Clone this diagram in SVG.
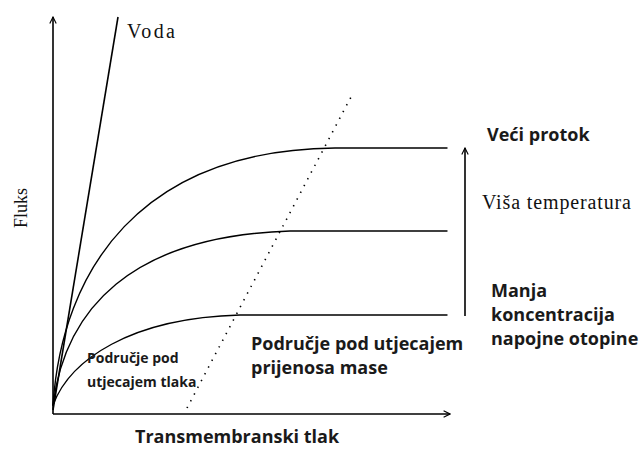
<svg xmlns="http://www.w3.org/2000/svg" width="641" height="450" viewBox="0 0 641 450">
<style>
.ax{fill:none;stroke:#000;stroke-width:1.6}
.cv{fill:none;stroke:#000;stroke-width:1.4;stroke-linejoin:round;stroke-linecap:round}
.dot{fill:none;stroke:#000;stroke-width:1.6;stroke-dasharray:1.4 6.2;stroke-linecap:butt}
.serif{font-family:"Liberation Serif","Times New Roman",serif;fill:#111}
.sans{font-family:"Open Sans","Liberation Sans",Arial,sans-serif;font-weight:bold;fill:#1a1a1a}
</style>
<defs>
<marker id="ah" viewBox="0 0 10 10" refX="9" refY="5" markerWidth="8" markerHeight="8" orient="auto" markerUnits="userSpaceOnUse">
<path d="M1,1 L9,5 L1,9" fill="none" stroke="#000" stroke-width="1.4"/>
</marker>
</defs>
<rect width="641" height="450" fill="#fff"/>
<g id="connectors">
<path class="ax" d="M53,414 L53,17" marker-end="url(#ah)"/>
<path class="ax" d="M53,414 L450,414" marker-end="url(#ah)"/>
<path class="ax" d="M53,410 L118,17"/>
<path class="cv" d="M53,405 C62,270 140,150 335,148 L447,148"/>
<path class="cv" d="M53,405 C65,310 130,236 290,231 L447,231"/>
<path class="cv" d="M53,405 C70,360 130,318 240,315 L447,315"/>
<path class="dot" d="M187,408 L351,97"/>
<path class="ax" d="M465,316 L465,148" marker-end="url(#ah)"/>
</g>
<g id="labels">
<text class="serif" x="127" y="38" font-size="20" textLength="48">Voda</text>
<text class="serif" x="482" y="209" font-size="20" textLength="149">Viša temperatura</text>
<text class="serif" font-size="18" text-anchor="middle" transform="translate(27,208) rotate(-90)">Fluks</text>
<text class="sans" x="487" y="141" font-size="18">Veći protok</text>
<text class="sans" x="491" y="297" font-size="18">Manja</text>
<text class="sans" x="491" y="321" font-size="18">koncentracija</text>
<text class="sans" x="491" y="345" font-size="18">napojne otopine</text>
<text class="sans" x="251" y="350" font-size="18">Područje pod utjecajem</text>
<text class="sans" x="251" y="374" font-size="18">prijenosa mase</text>
<text class="sans" x="87" y="363" font-size="14">Područje pod</text>
<text class="sans" x="87" y="387" font-size="14">utjecajem tlaka</text>
<text class="sans" x="135" y="443" font-size="18">Transmembranski tlak</text>
</g>
</svg>
